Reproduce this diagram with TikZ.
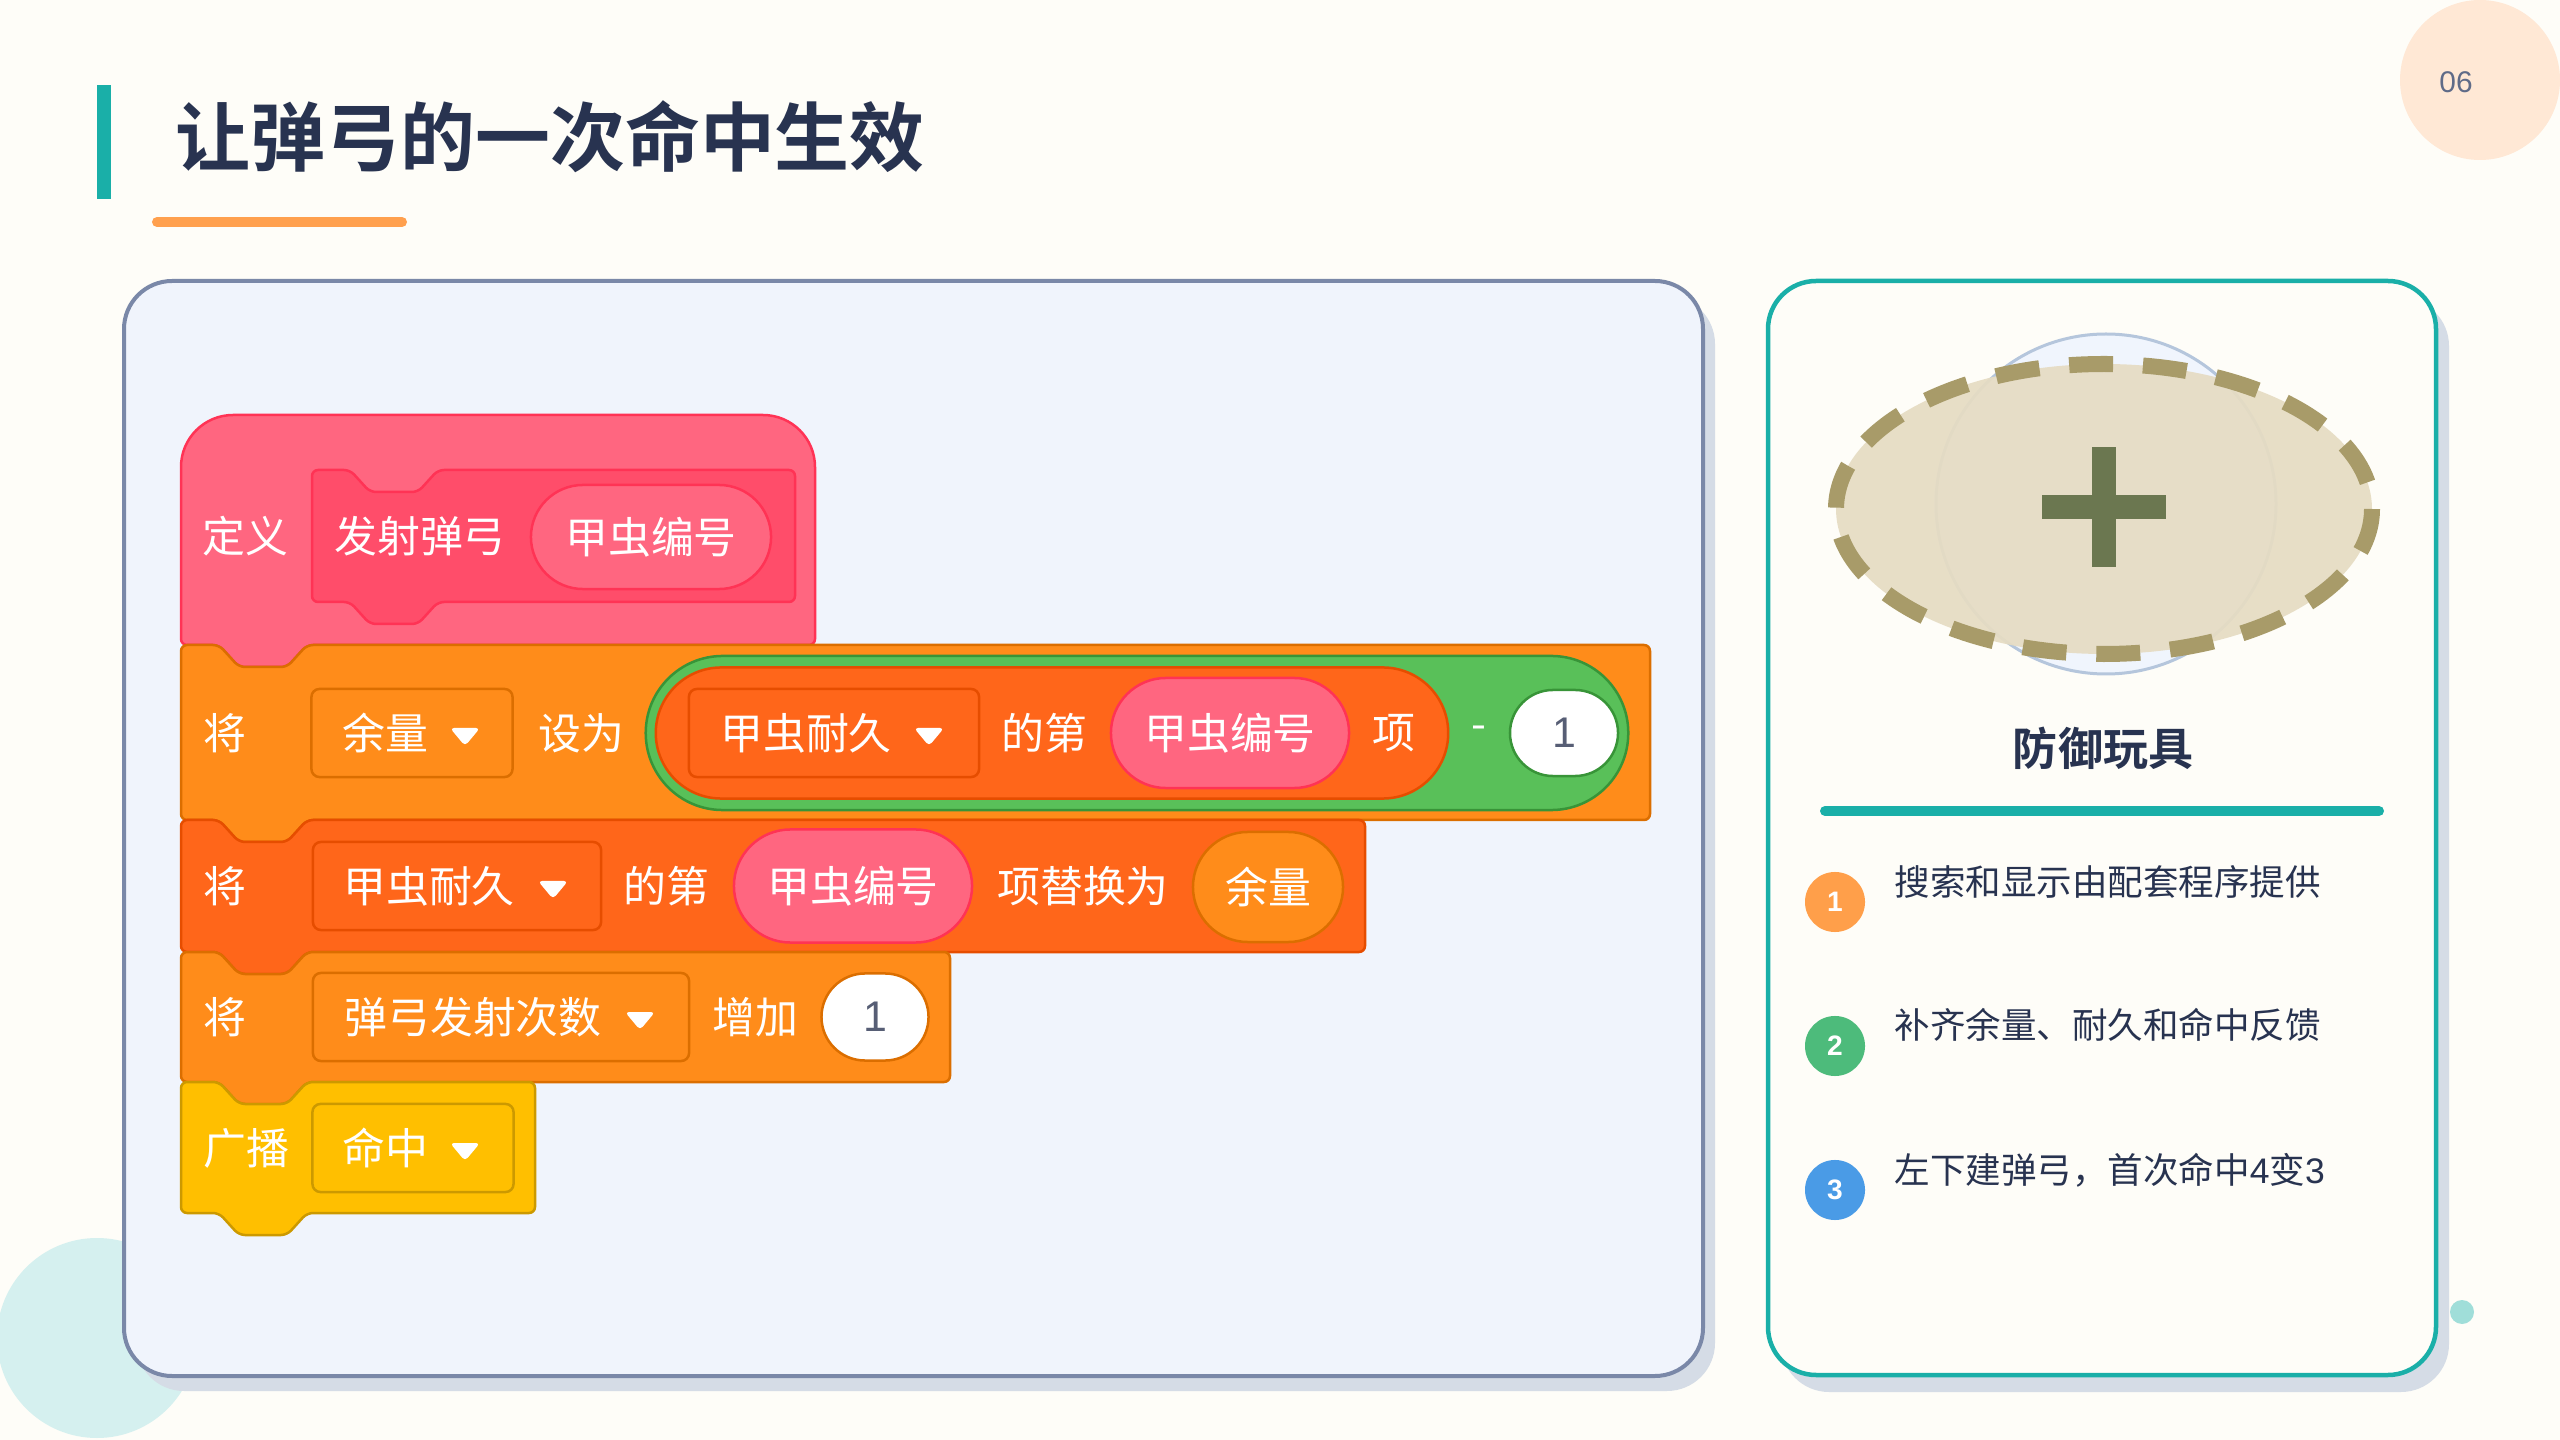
\documentclass[tikz,border=0pt]{standalone}
\usepackage{fontspec}
\setmainfont{Noto Sans CJK SC}[BoldFont={Noto Sans CJK SC Bold}]
\newfontfamily\latinsans{Liberation Sans}
\usepackage{tikz}
\usetikzlibrary{shapes.misc,positioning}
\definecolor{pagebg}{RGB}{254,253,248}
\definecolor{inkblue}{RGB}{40,51,80}
\definecolor{tealc}{RGB}{26,175,168}
\definecolor{accent}{RGB}{255,160,78}
\definecolor{peach}{RGB}{255,232,213}
\definecolor{pagenum}{RGB}{95,107,136}
\definecolor{panelfill}{RGB}{240,244,252}
\definecolor{panelline}{RGB}{122,136,168}
\definecolor{panelshadow}{RGB}{213,220,230}
\definecolor{mint}{RGB}{213,240,239}
\definecolor{mintdot}{RGB}{160,222,217}
% scratch palette
\definecolor{myPink}{RGB}{255,102,128}
\definecolor{myPinkD}{RGB}{255,51,85}
\definecolor{myProto}{RGB}{255,77,106}
\definecolor{varOrange}{RGB}{255,140,26}
\definecolor{varOrangeD}{RGB}{219,110,0}
\definecolor{listOrange}{RGB}{255,102,26}
\definecolor{listOrangeD}{RGB}{230,77,0}
\definecolor{opGreen}{RGB}{89,192,89}
\definecolor{opGreenD}{RGB}{56,148,56}
\definecolor{evYellow}{RGB}{255,191,0}
\definecolor{evYellowD}{RGB}{204,153,0}
\definecolor{numGrey}{RGB}{87,94,117}
% toy picture
\definecolor{toyFill}{RGB}{230,220,195}
\definecolor{toyDash}{RGB}{168,155,105}
\definecolor{toyRing}{RGB}{181,198,220}
\definecolor{toyRingFill}{RGB}{240,245,253}
\definecolor{toyPlus}{RGB}{107,119,80}
\definecolor{stepOne}{RGB}{255,159,74}
\definecolor{stepTwo}{RGB}{77,187,123}
\definecolor{stepThree}{RGB}{74,155,230}
\newcommand{\blockfont}{\fontsize{12.2pt}{14pt}\selectfont}
% stack block with notch on top and tab below: x, y, width, height, style
\newcommand{\stackblock}[5]{%
  \draw[#5] (#1,#2) -- (#1+38,#2) -- (#1+58,#2+22) -- (#1+106,#2+22) -- (#1+126,#2)
    -- (#1+#3,#2) -- (#1+#3,#2+#4) -- (#1+126,#2+#4) -- (#1+106,#2+#4+22)
    -- (#1+58,#2+#4+22) -- (#1+38,#2+#4) -- (#1,#2+#4) -- cycle;}
% white drop-down tip: x, y
\newcommand{\ddtip}[2]{%
  \fill[white, rounded corners=0.04cm] (#1-15,#2-8) -- (#1+15,#2-8) -- (#1,#2+10) -- cycle;}
\tikzset{
  blk/.style 2 args={fill=#1, draw=#2, line width=0.025cm, rounded corners=0.06cm},
  lbl/.style={text=white, font=\blockfont, inner sep=0pt},
  pill/.style 2 args={rounded rectangle, fill=#1, draw=#2, line width=0.025cm, inner sep=0pt},
  slot/.style 2 args={rectangle, rounded corners=0.08cm, fill=#1, draw=#2, line width=0.025cm, inner sep=0pt},
  numtxt/.style={text=numGrey, font=\blockfont\latinsans, inner sep=0pt},
  stepdot/.style={circle, fill=#1, minimum size=0.6cm, inner sep=0pt, text=white,
                  font=\fontsize{8pt}{9pt}\selectfont\latinsans\bfseries},
  steptxt/.style={anchor=west, text=inkblue, inner sep=0pt, font=\fontsize{10.1pt}{12pt}\selectfont},
}

\begin{document}
\begin{tikzpicture}[x=0.01cm, y=-0.01cm]
  \useasboundingbox[fill=pagebg] (0,0) rectangle (2560,1440);

  % page decorations
  \fill[peach] (2480,80) circle[radius=80];
  \node[text=pagenum, font=\fontsize{8.5pt}{10pt}\selectfont\latinsans] (pgno) at (2456,82) {06};
  \fill[mint] (97,1338) circle[radius=100];
  \fill[mintdot] (2462,1312) circle[radius=12];

  % title
  \fill[tealc] (97,85) rectangle (111,199);
  \node[anchor=west, text=inkblue, inner sep=0pt, font=\fontsize{21.3pt}{24pt}\selectfont\bfseries]
        (title) at (175,137) {让弹弓的一次命中生效};
  \draw[accent, line width=0.1cm, line cap=round] (157,222) -- (402,222);

  % code panel
  \fill[panelshadow, rounded corners=0.48cm] (136,296) rectangle (1715,1391);
  \draw[panelline, fill=panelfill, line width=0.04cm, rounded corners=0.48cm] (124,281) rectangle (1703,1376);

  % card panel
  \fill[panelshadow, rounded corners=0.48cm] (1781,298) rectangle (2449,1392);
  \draw[tealc, fill=pagebg, line width=0.045cm, rounded corners=0.48cm] (1768,281) rectangle (2436,1375);

  % define hat
  \draw[blk={myPink}{myPinkD}] (181,645) [rounded corners=0.52cm] -- (181,415) -- (815,415)
        [rounded corners=0.06cm] -- (815,645) -- (307,645) -- (287,667) -- (239,667) -- (219,645) -- cycle;
  \stackblock{312}{470}{483}{132}{blk={myProto}{myPinkD}}
  \node[lbl] (define) at (245,536) {定义};
  \node[lbl] (fire) at (420,536) {发射弹弓};
  \node[pill={myPink}{myPinkD}, minimum width=2.40cm, minimum height=1.04cm] (arg) at (651,537) {};
  \node[lbl] (argtxt) at (arg) {甲虫编号};

  % set remaining
  \stackblock{181}{645}{1469}{175}{blk={varOrange}{varOrangeD}}
  \node[lbl] (set) at (225,733) {将};
  \node[slot={varOrange}{varOrangeD}, minimum width=2.01cm, minimum height=0.88cm] (ddleft) at (412,733) {};
  \node[lbl] (lefttxt) at (385,733) {余量};
  \ddtip{465}{736}
  \node[lbl] (to) at (581,733) {设为};
  \node[pill={opGreen}{opGreenD}, minimum width=9.82cm, minimum height=1.54cm] (minus) at (1137,733) {};
  \node[pill={listOrange}{listOrangeD}, minimum width=7.92cm, minimum height=1.31cm] (item) at (1052,733) {};
  \node[slot={listOrange}{listOrangeD}, minimum width=2.90cm, minimum height=0.88cm] (ddlist) at (834,733) {};
  \node[lbl] (listtxt) at (806,733) {甲虫耐久};
  \ddtip{929}{736}
  \node[lbl] (of) at (1044,733) {的第};
  \node[pill={myPink}{myPinkD}, minimum width=2.38cm, minimum height=1.10cm] (idx) at (1230,733) {};
  \node[lbl] (idxtxt) at (idx) {甲虫编号};
  \node[lbl] (entry) at (1394,733) {项};
  \node[lbl] (sub) at (1479,733) {-};
  \node[pill={white}{opGreenD}, minimum width=1.08cm, minimum height=0.86cm] (one) at (1564,733) {};
  \node[numtxt] (onetxt) at (one) {1};

  % replace item
  \stackblock{181}{820}{1184}{132}{blk={listOrange}{listOrangeD}}
  \node[lbl] (put) at (225,886) {将};
  \node[slot={listOrange}{listOrangeD}, minimum width=2.88cm, minimum height=0.88cm] (ddlist2) at (457,886) {};
  \node[lbl] (list2txt) at (429,886) {甲虫耐久};
  \ddtip{553}{889}
  \node[lbl] (of2) at (666,886) {的第};
  \node[pill={myPink}{myPinkD}, minimum width=2.38cm, minimum height=1.13cm] (idx2) at (853,886) {};
  \node[lbl] (idx2txt) at (idx2) {甲虫编号};
  \node[lbl] (with) at (1083,886) {项替换为};
  \node[pill={varOrange}{varOrangeD}, minimum width=1.50cm, minimum height=1.10cm] (rest) at (1268,887) {};
  \node[lbl] (resttxt) at (rest) {余量};

  % change counter
  \stackblock{181}{952}{769}{130}{blk={varOrange}{varOrangeD}}
  \node[lbl] (chg) at (225,1017) {将};
  \node[slot={varOrange}{varOrangeD}, minimum width=3.76cm, minimum height=0.88cm] (ddcount) at (501,1017) {};
  \node[lbl] (counttxt) at (473,1017) {弹弓发射次数};
  \ddtip{640}{1020}
  \node[lbl] (by) at (755,1017) {增加};
  \node[pill={white}{varOrangeD}, minimum width=1.07cm, minimum height=0.87cm] (inc) at (875,1017) {};
  \node[numtxt] (inctxt) at (inc) {1};

  % broadcast
  \stackblock{181}{1082}{354}{131}{blk={evYellow}{evYellowD}}
  \node[lbl] (bcast) at (246,1148) {广播};
  \node[slot={evYellow}{evYellowD}, minimum width=2.01cm, minimum height=0.88cm] (ddmsg) at (413,1148) {};
  \node[lbl] (msgtxt) at (385,1148) {命中};
  \ddtip{465}{1151}

  % toy picture
  \draw[toyRing, fill=toyRingFill, line width=0.03cm] (2106,504) circle[radius=170];
  \fill[toyFill, fill opacity=0.93] (2104,509) ellipse[x radius=268, y radius=145];
  \draw[toyDash, line width=0.16cm, dash pattern=on 12.5pt off 8.5pt] (2104,509) ellipse[x radius=268, y radius=145];
  \fill[toyPlus] (2092,447) rectangle (2116,567);
  \fill[toyPlus] (2042,495) rectangle (2166,519);
  \node[text=inkblue, font=\fontsize{12.8pt}{15pt}\selectfont\bfseries] (toy) at (2103,748) {防御玩具};
  \draw[tealc, line width=0.1cm, line cap=round] (1825,811) -- (2379,811);

  % steps
  \node[stepdot=stepOne] (s1) at (1835,902) {1};
  \node[stepdot=stepTwo] (s2) at (1835,1046) {2};
  \node[stepdot=stepThree] (s3) at (1835,1190) {3};
  \node[steptxt] (s1txt) at (1894,882) {搜索和显示由配套程序提供};
  \node[steptxt] (s2txt) at (1894,1025) {补齐余量、耐久和命中反馈};
  \node[steptxt] (s3txt) at (1894,1170) {左下建弹弓，首次命中{\latinsans 4}变{\latinsans 3}};
\end{tikzpicture}
\end{document}
